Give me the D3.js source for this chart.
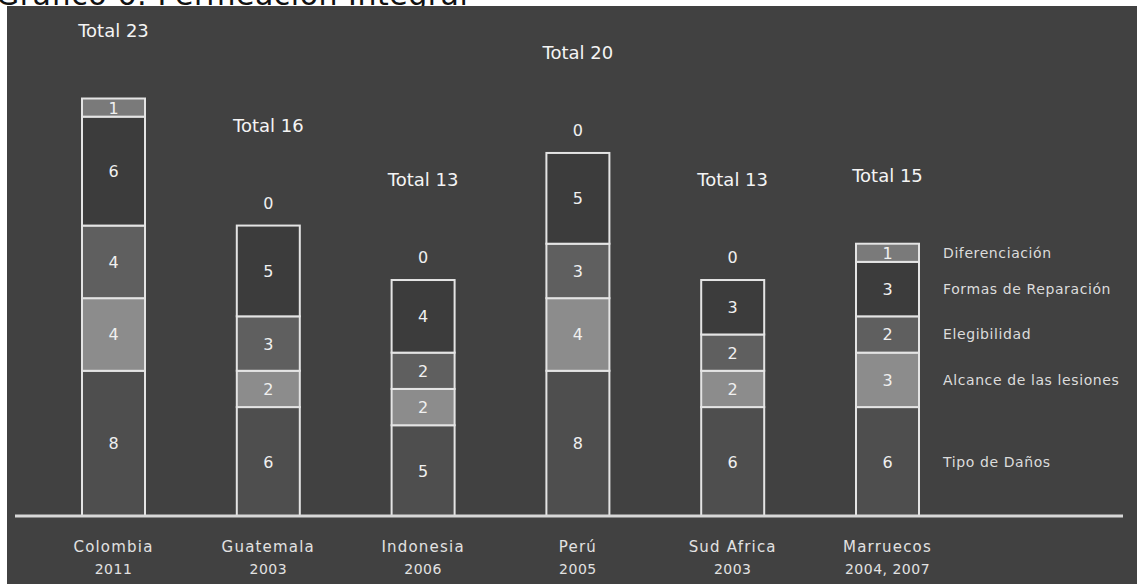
<!DOCTYPE html>
<html>
<head>
<meta charset="utf-8">
<script src="https://cdn.jsdelivr.net/npm/d3@7"></script>
<style>
  html, body { margin: 0; padding: 0; background: #ffffff; }
  svg { display: block; }
  text { font-family: "DejaVu Sans", sans-serif; }
</style>
</head>
<body>
<svg id="chart" width="1137" height="584"></svg>
<script>
// Countries and year(s) of their reparation programmes
const countries = ["Colombia", "Guatemala", "Indonesia", "Perú", "Sud Africa", "Marruecos"];
const years = ["2011", "2003", "2006", "2005", "2003", "2004, 2007"];

// Categories, stacked from the bottom up
const categories = ["Tipo de Daños", "Alcance de las lesiones", "Elegibilidad", "Formas de Reparación", "Diferenciación"];

// Count per category, one value per country
const tipoDanos = [8, 6, 5, 8, 6, 6];
const alcance = [4, 2, 2, 4, 2, 3];
const elegibilidad = [4, 3, 2, 3, 2, 2];
const formas = [6, 5, 4, 5, 3, 3];
const diferenciacion = [1, 0, 0, 0, 0, 1];

const seriesValues = [tipoDanos, alcance, elegibilidad, formas, diferenciacion];
const fills = ["#4e4e4e", "#8c8c8c", "#5f5f5f", "#3c3c3c", "#7a7a7a"];

const rows = countries.map((c, i) => {
  const r = { country: c, year: years[i] };
  categories.forEach((k, j) => { r[k] = seriesValues[j][i]; });
  r.total = d3.sum(categories, k => r[k]);
  return r;
});

const svg = d3.select("#chart");
const W = 1137, H = 584;

// Heading above the dark panel
svg.append("text")
  .attr("x", -4).attr("y", 5)
  .attr("font-size", 30)
  .attr("letter-spacing", 0.5)
  .attr("fill", "#111")
  .text("Gráfico 6: Permeación Integral");

// Dark panel
svg.append("rect")
  .attr("x", 7).attr("y", 6)
  .attr("width", W - 7).attr("height", H - 6)
  .attr("fill", "#414141");

const x = d3.scalePoint()
  .domain(countries)
  .range([113.5, 887.5]);

const y = d3.scaleLinear()
  .domain([0, 23])
  .range([516, 98.5]);

const barW = 63;

const stack = d3.stack().keys(categories);
const layers = stack(rows);

const g = svg.append("g");

layers.forEach((layer, li) => {
  const grp = g.append("g").attr("class", "layer");
  grp.selectAll("rect")
    .data(layer.filter(d => d[1] > d[0]))
    .join("rect")
    .attr("x", d => x(d.data.country) - barW / 2)
    .attr("y", d => y(d[1]))
    .attr("width", barW)
    .attr("height", d => y(d[0]) - y(d[1]))
    .attr("fill", fills[li])
    .attr("stroke", "#e4e4e4")
    .attr("stroke-width", 2);

  grp.selectAll("text")
    .data(layer)
    .join("text")
    .attr("x", d => x(d.data.country))
    .attr("y", d => d[1] > d[0] ? (y(d[0]) + y(d[1])) / 2 + 6 : y(d[1]) - 17)
    .attr("text-anchor", "middle")
    .attr("font-size", 16)
    .attr("fill", "#f0f0f0")
    .text(d => d[1] - d[0]);
});

// Totals above each bar
g.selectAll("text.total")
  .data(rows)
  .join("text")
  .attr("class", "total")
  .attr("x", d => x(d.country))
  .attr("y", d => y(d.total) - (d["Diferenciación"] > 0 ? 62 : 94))
  .attr("text-anchor", "middle")
  .attr("font-size", 18)
  .attr("fill", "#f4f4f4")
  .text(d => "Total " + d.total);

// Baseline
svg.append("line")
  .attr("x1", 15).attr("x2", 1123)
  .attr("y1", y(0)).attr("y2", y(0))
  .attr("stroke", "#d8d8d8")
  .attr("stroke-width", 3);

// Country / year labels
const xl = svg.append("g").selectAll("g")
  .data(rows)
  .join("g")
  .attr("transform", d => `translate(${x(d.country)},0)`);
xl.append("text")
  .attr("y", 552).attr("text-anchor", "middle")
  .attr("font-size", 15).attr("letter-spacing", 1.2).attr("fill", "#e2e2e2")
  .text(d => d.country);
xl.append("text")
  .attr("y", 574).attr("text-anchor", "middle")
  .attr("font-size", 14).attr("letter-spacing", 0.5).attr("fill", "#e2e2e2")
  .text(d => d.year);

// Category legend, aligned with the last bar's segments
const last = rows.length - 1;
svg.append("g").selectAll("text")
  .data(layers)
  .join("text")
  .attr("x", 943)
  .attr("y", d => (y(d[last][0]) + y(d[last][1])) / 2 + 5)
  .attr("font-size", 14)
  .attr("letter-spacing", 0.6)
  .attr("fill", "#dcdcdc")
  .text(d => d.key);
</script>
</body>
</html>
